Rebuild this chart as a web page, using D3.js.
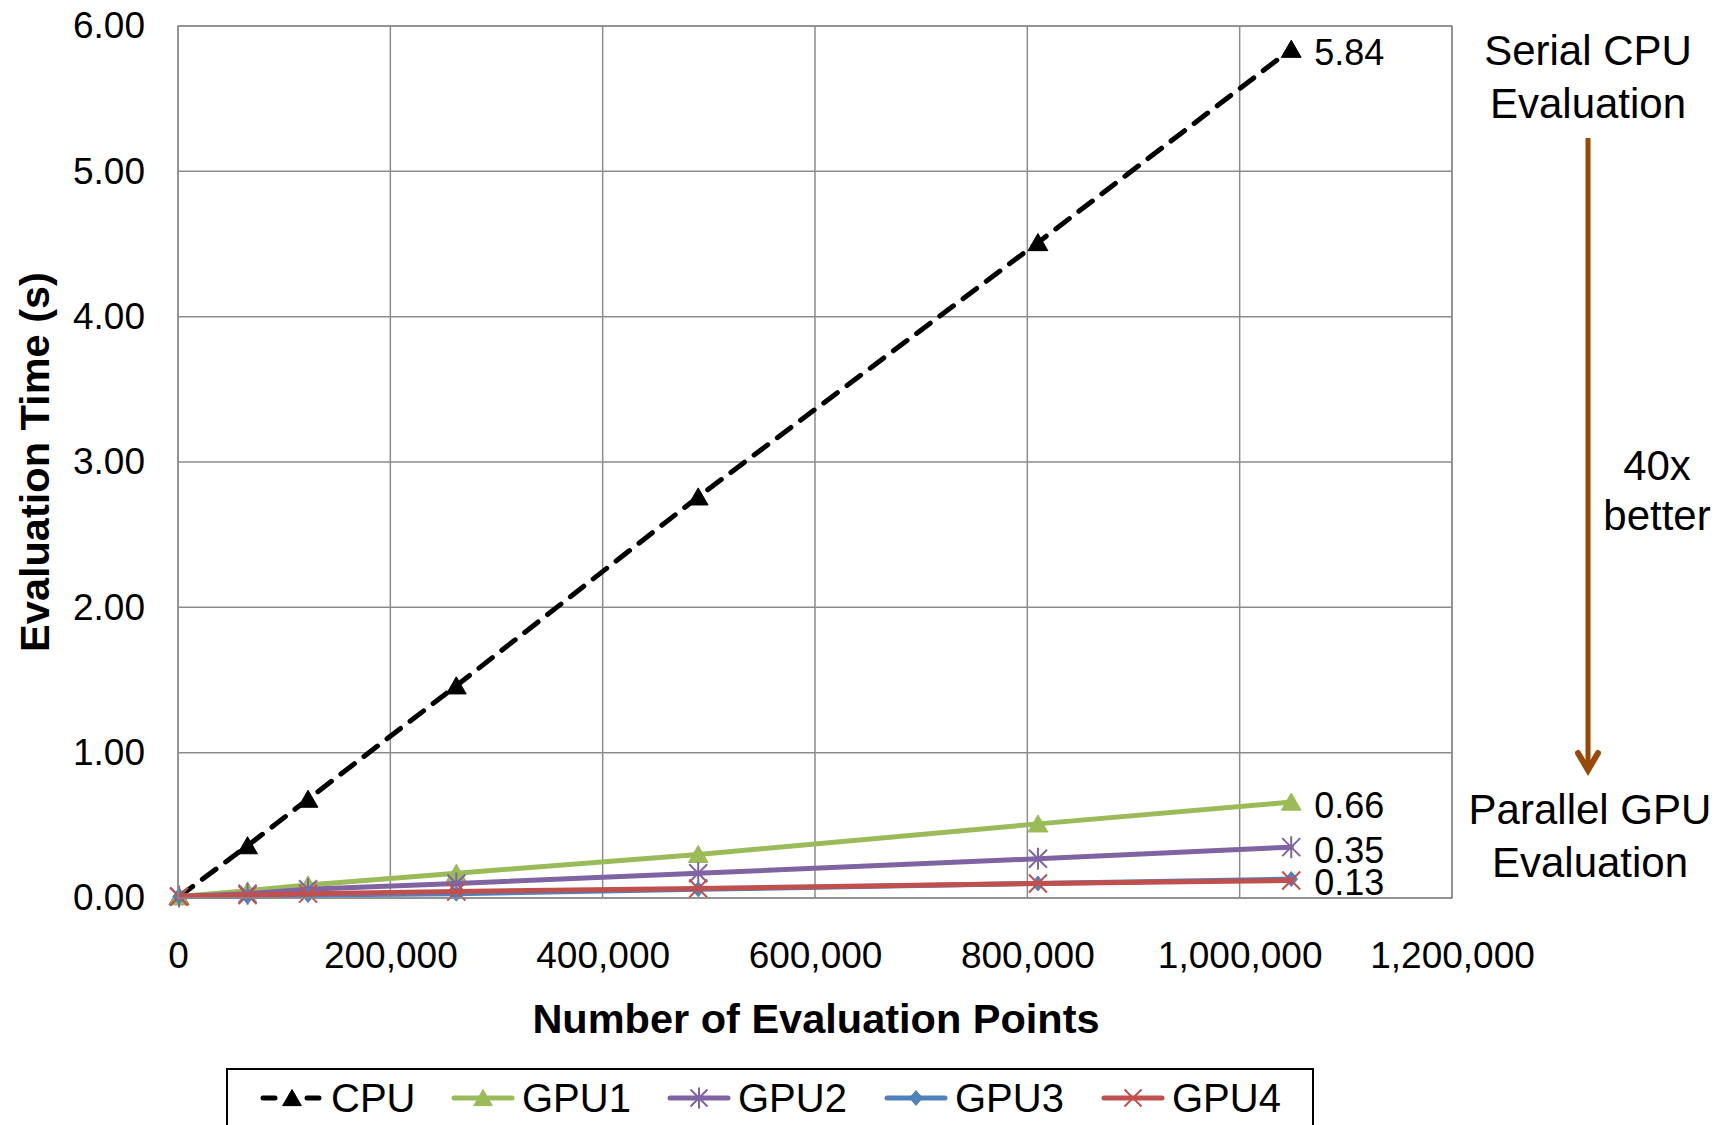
<!DOCTYPE html>
<html>
<head>
<meta charset="utf-8">
<script src="https://cdn.jsdelivr.net/npm/d3@7"></script>
<style>
  body { margin: 0; background: #fff; }
  svg text { font-family: "Liberation Sans", Arial, sans-serif; fill: #000; }
</style>
</head>
<body>
<div id="chart"></div>
<script>
// data
const points = [1000, 65536, 122500, 262144, 490000, 810000, 1048576];
const cpu  = [0.01, 0.36, 0.68, 1.46, 2.76, 4.51, 5.84];
const gpu1 = [0.01, 0.05, 0.09, 0.17, 0.30, 0.51, 0.66];
const gpu2 = [0.01, 0.03, 0.06, 0.10, 0.17, 0.27, 0.35];
const gpu3 = [0.01, 0.01, 0.02, 0.03, 0.06, 0.10, 0.13];
const gpu4 = [0.01, 0.02, 0.03, 0.045, 0.065, 0.10, 0.12];
const seriesNames = ["CPU", "GPU1", "GPU2", "GPU3", "GPU4"];
const endLabels = [["CPU", "5.84"], ["GPU1", "0.66"], ["GPU2", "0.35"], ["GPU3", "0.13"]];
const xTicks = [0, 200000, 400000, 600000, 800000, 1000000, 1200000];
const yTicks = [0, 1, 2, 3, 4, 5, 6];

const width = 1717, height = 1125;
const margin = {left: 178, right: 265, top: 26, bottom: 227};

const series = [
    {name: "CPU",  values: cpu,  color: "#000000", marker: "triangle", dash: "17,12"},
    {name: "GPU1", values: gpu1, color: "#9bbb59", marker: "triangle"},
    {name: "GPU2", values: gpu2, color: "#8064a2", marker: "star"},
    {name: "GPU3", values: gpu3, color: "#4f81bd", marker: "diamond"},
    {name: "GPU4", values: gpu4, color: "#c0504d", marker: "cross"}
];

const svg = d3.select("#chart").append("svg")
    .attr("width", width)
    .attr("height", height);

const x = d3.scaleLinear().domain([0, 1200000]).range([margin.left, width - margin.right]);
const y = d3.scaleLinear().domain([0, 6]).range([height - margin.bottom, margin.top]);

// grid
svg.append("g").selectAll("line.h").data(yTicks).enter().append("line")
    .attr("x1", x(0)).attr("x2", x(1200000))
    .attr("y1", d => y(d)).attr("y2", d => y(d))
    .attr("stroke", "#8c8c8c").attr("stroke-width", 1.5);
svg.append("g").selectAll("line.v").data(xTicks).enter().append("line")
    .attr("y1", y(0)).attr("y2", y(6))
    .attr("x1", d => x(d)).attr("x2", d => x(d))
    .attr("stroke", "#8c8c8c").attr("stroke-width", 1.5);

// axes labels
const yAxis = svg.append("g")
    .attr("transform", `translate(${margin.left},0)`)
    .call(d3.axisLeft(y).tickValues(yTicks).tickFormat(d3.format(".2f")).tickSize(0).tickPadding(33));
yAxis.select(".domain").remove();
yAxis.selectAll("text").style("font-size", "37px").style("font-family", "Liberation Sans, Arial");

const xAxis = svg.append("g")
    .attr("transform", `translate(0,${y(0)})`)
    .call(d3.axisBottom(x).tickValues(xTicks).tickFormat(d3.format(",")).tickSize(0).tickPadding(44));
xAxis.select(".domain").remove();
xAxis.selectAll("text").style("font-size", "37px").style("font-family", "Liberation Sans, Arial");

svg.append("text")
    .attr("x", (x(0) + x(1200000)) / 2 + 1)
    .attr("y", 1033)
    .attr("text-anchor", "middle")
    .style("font-size", "41.5px").style("font-weight", "bold")
    .text("Number of Evaluation Points");

svg.append("text")
    .attr("transform", `translate(49,${(y(0) + y(6)) / 2}) rotate(-90)`)
    .attr("text-anchor", "middle")
    .style("font-size", "41.5px").style("font-weight", "bold")
    .text("Evaluation Time (s)");

// marker shapes
function markerPath(type, s) {
    const p = d3.path();
    if (type == "triangle") {
        p.moveTo(0, -s * 0.5); p.lineTo(s * 0.55, s * 0.45); p.lineTo(-s * 0.55, s * 0.45); p.closePath();
    } else if (type == "diamond") {
        p.moveTo(0, -s * 0.5); p.lineTo(s * 0.42, 0); p.lineTo(0, s * 0.5); p.lineTo(-s * 0.42, 0); p.closePath();
    } else if (type == "cross") {
        p.moveTo(-s / 2, -s / 2); p.lineTo(s / 2, s / 2); p.moveTo(s / 2, -s / 2); p.lineTo(-s / 2, s / 2);
    } else if (type == "star") {
        p.moveTo(-s / 2, -s / 2); p.lineTo(s / 2, s / 2); p.moveTo(s / 2, -s / 2); p.lineTo(-s / 2, s / 2);
        p.moveTo(0, -s / 2 - 2); p.lineTo(0, s / 2 + 2);
    }
    return p.toString();
}

function drawMarker(g, s, type, color, size) {
    const filled = type == "triangle" || type == "diamond";
    g.append("path")
        .attr("d", markerPath(type, size))
        .attr("fill", filled ? color : "none")
        .attr("stroke", color)
        .attr("stroke-width", filled ? 1 : 2);
}

const line = d3.line().x(d => x(d[0])).y(d => y(d[1]));

series.forEach(s => {
    const pts = points.map((p, i) => [p, s.values[i]]);
    svg.append("path")
        .datum(pts)
        .attr("d", line)
        .attr("fill", "none")
        .attr("stroke", s.color)
        .attr("stroke-width", 5)
        .attr("stroke-linecap", "round")
        .attr("stroke-dasharray", s.dash || null);
    pts.forEach(d => {
        const g = svg.append("g").attr("transform", `translate(${x(d[0])},${y(d[1])})`);
        drawMarker(g, s, s.marker, s.color, s.marker == "diamond" ? 15 : 18);
    });
});

// end-point value labels
endLabels.forEach(([name, label]) => {
    const s = series.find(d => d.name == name);
    const last = s.values.length - 1;
    svg.append("text")
        .attr("x", x(points[last]) + 23)
        .attr("y", y(s.values[last]) + 3)
        .attr("dy", "0.35em")
        .style("font-size", "36px")
        .text(label);
});

// plot border
svg.append("rect")
    .attr("x", x(0)).attr("y", y(6))
    .attr("width", x(1200000) - x(0)).attr("height", y(0) - y(6))
    .attr("fill", "none").attr("stroke", "#8c8c8c").attr("stroke-width", 1.5);

// annotation on the right
const ann = svg.append("g").style("font-size", "42px").attr("text-anchor", "middle");
ann.append("text").attr("x", 1588).attr("y", 65).text("Serial CPU");
ann.append("text").attr("x", 1588).attr("y", 118).text("Evaluation");
ann.append("text").attr("x", 1590).attr("y", 824).text("Parallel GPU");
ann.append("text").attr("x", 1590).attr("y", 877).text("Evaluation");
ann.append("text").attr("x", 1657).attr("y", 480).text("40x");
ann.append("text").attr("x", 1657).attr("y", 530).text("better");

const arrowColor = "#984807";
svg.append("line")
    .attr("x1", 1588).attr("x2", 1588)
    .attr("y1", 138).attr("y2", 768)
    .attr("stroke", arrowColor).attr("stroke-width", 5);
svg.append("path")
    .attr("d", "M1578,753 L1588,770 L1598,753")
    .attr("fill", "none").attr("stroke", arrowColor)
    .attr("stroke-width", 6).attr("stroke-linejoin", "miter").attr("stroke-linecap", "round");

// legend
const legend = svg.append("g");
legend.append("rect")
    .attr("x", 227).attr("y", 1069)
    .attr("width", 1086).attr("height", 60)
    .attr("fill", "#fff").attr("stroke", "#000").attr("stroke-width", 2);

const legendX = [263, 454, 670, 887, 1104];
series.forEach((s, i) => {
    const g = legend.append("g").attr("transform", `translate(${legendX[i]},1098)`);
    if (s.dash) {
        g.append("line").attr("x1", 0).attr("x2", 12).attr("stroke", s.color)
            .attr("stroke-width", 5).attr("stroke-linecap", "round");
        g.append("line").attr("x1", 44).attr("x2", 56).attr("stroke", s.color)
            .attr("stroke-width", 5).attr("stroke-linecap", "round");
    } else {
        g.append("line").attr("x1", 0).attr("x2", 58).attr("stroke", s.color)
            .attr("stroke-width", 5).attr("stroke-linecap", "round");
    }
    const m = g.append("g").attr("transform", "translate(29,0)");
    drawMarker(m, s, s.marker, s.color, s.marker == "diamond" ? 15 : 17);
    g.append("text")
        .attr("x", 68).attr("dy", "0.36em")
        .style("font-size", "40px")
        .text(s.name);
});
</script>
</body>
</html>
